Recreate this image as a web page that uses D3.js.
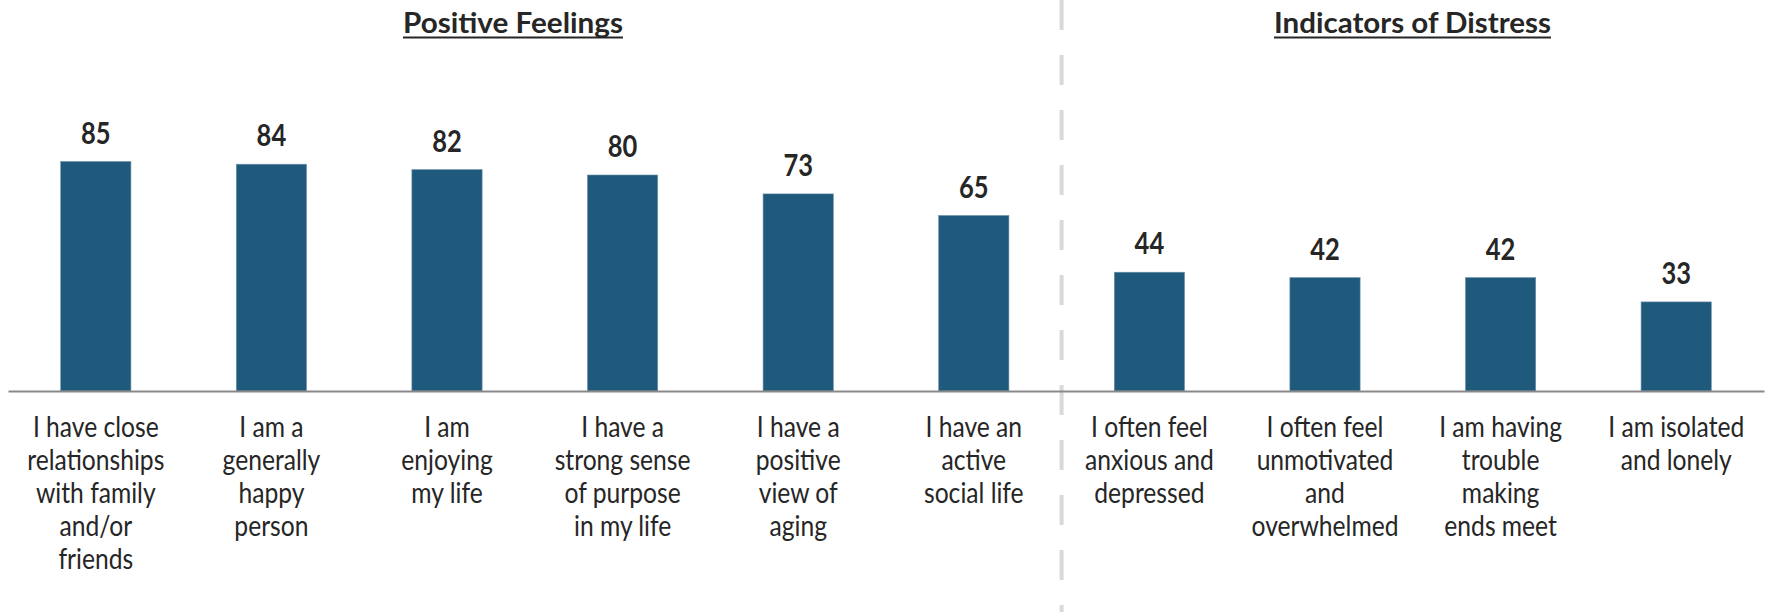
<!DOCTYPE html>
<html>
<head>
<meta charset="utf-8">
<script src="https://cdn.jsdelivr.net/npm/d3@7/dist/d3.min.js"></script>
<style>
  html, body { margin: 0; padding: 0; background: #ffffff; }
  svg { display: block; }
</style>
</head>
<body>
<svg id="chart" width="1769" height="612"></svg>
<script>
const categories = [
  "I have close relationships with family and/or friends",
  "I am a generally happy person",
  "I am enjoying my life",
  "I have a strong sense of purpose in my life",
  "I have a positive view of aging",
  "I have an active social life",
  "I often feel anxious and depressed",
  "I often feel unmotivated and overwhelmed",
  "I am having trouble making ends meet",
  "I am isolated and lonely"
];
const labelLines = [
  ["I have close", "relationships", "with family", "and/or", "friends"],
  ["I am a", "generally", "happy", "person"],
  ["I am", "enjoying", "my life"],
  ["I have a", "strong sense", "of purpose", "in my life"],
  ["I have a", "positive", "view of", "aging"],
  ["I have an", "active", "social life"],
  ["I often feel", "anxious and", "depressed"],
  ["I often feel", "unmotivated", "and", "overwhelmed"],
  ["I am having", "trouble", "making", "ends meet"],
  ["I am isolated", "and lonely"]
];
const values = [85, 84, 82, 80, 73, 65, 44, 42, 42, 33];
const groups = ["Positive Feelings", "Indicators of Distress"];
const groupCounts = [6, 4];

const svg = d3.select("#chart");
const W = 1769, H = 612;
const baseY = 391;

const x = d3.scaleBand().domain(categories).range([8, 1764]).paddingInner(0.6).paddingOuter(0.3);
const y = d3.scaleLinear().domain([0, 100]).range([baseY, 121]);

const barColor = "#1f5a7d";
const textColor = "#262626";
const fontFam = "Lato, 'Open Sans', sans-serif";

// divider between groups
const dividerX = x.range()[0] + x.step() * groupCounts[0];
svg.append("line")
  .attr("x1", dividerX).attr("x2", dividerX)
  .attr("y1", 0).attr("y2", H)
  .attr("stroke", "#d9d9d9").attr("stroke-width", 4)
  .attr("stroke-dasharray", "30,25");

// bars
svg.append("g").selectAll("rect")
  .data(values)
  .join("rect")
  .attr("x", (d, i) => x(categories[i]))
  .attr("width", x.bandwidth())
  .attr("y", d => y(d))
  .attr("height", d => y(0) - y(d))
  .attr("fill", barColor)
  .attr("stroke", "#6f93ab").attr("stroke-width", 0.6);

// baseline axis
const axis = d3.axisBottom(x).tickSize(0).tickFormat("");
const axG = svg.append("g").attr("transform", `translate(0,${baseY})`).call(axis);
axG.select(".domain").attr("stroke", "#898989").attr("stroke-width", 2.2);

// value labels
svg.append("g").selectAll("text")
  .data(values)
  .join("text")
  .attr("transform", (d, i) => `translate(${x(categories[i]) + x.bandwidth() / 2},${y(d) - 18}) scale(0.85,1)`)
  .attr("text-anchor", "middle")
  .attr("font-family", fontFam)
  .attr("font-weight", "bold")
  .attr("font-size", 30)
  .attr("fill", textColor)
  .text(d => d);

// category labels
const lab = svg.append("g").selectAll("g.lab")
  .data(labelLines)
  .join("g")
  .attr("class", "lab")
  .attr("transform", (d, i) => `translate(${x(categories[i]) + x.bandwidth() / 2},437) scale(0.88,1)`);
lab.selectAll("text")
  .data(d => d)
  .join("text")
  .attr("y", (d, j) => j * 33)
  .attr("text-anchor", "middle")
  .attr("font-family", fontFam)
  .attr("font-size", 28)
  .attr("fill", textColor)
  .text(d => d);

// group titles
const titleCenters = [513, 1412.5];
const titleWidths = [220, 277];
groups.forEach((g, i) => {
  svg.append("text")
    .attr("x", titleCenters[i]).attr("y", 33)
    .attr("text-anchor", "middle")
    .attr("font-family", fontFam)
    .attr("font-weight", "bold")
    .attr("font-size", 29)
    .attr("fill", textColor)
    .attr("textLength", titleWidths[i])
    .attr("lengthAdjust", "spacingAndGlyphs")
    .text(g);
  svg.append("line")
    .attr("x1", titleCenters[i] - titleWidths[i] / 2)
    .attr("x2", titleCenters[i] + titleWidths[i] / 2)
    .attr("y1", 37.5).attr("y2", 37.5)
    .attr("stroke", textColor).attr("stroke-width", 2);
});
</script>
</body>
</html>
